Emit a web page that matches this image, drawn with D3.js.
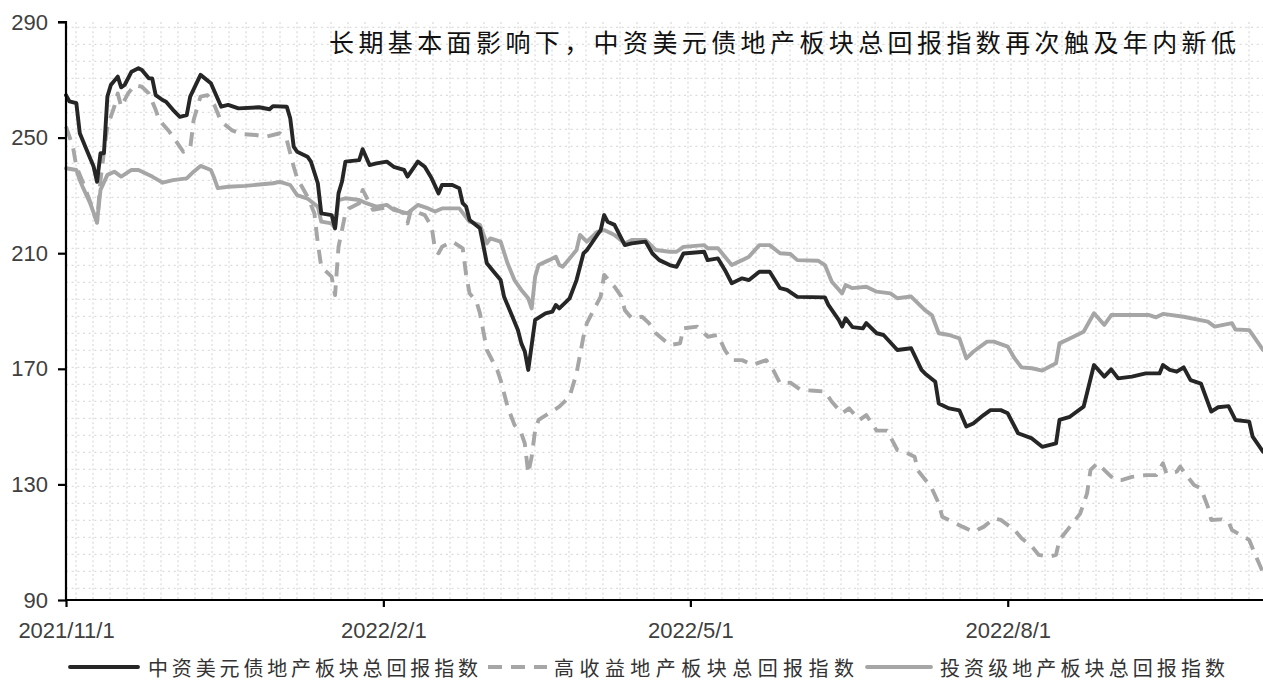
<!DOCTYPE html>
<html>
<head>
<meta charset="utf-8">
<script src="https://cdn.jsdelivr.net/npm/d3@7"></script>
<style>
  html, body { margin: 0; padding: 0; background: #fff; }
  svg { display: block; }
</style>
</head>
<body>
<svg id="chart" width="1263" height="683"></svg>
<script>
// ---------------- DATA ----------------
const chartTitle = "长期基本面影响下，中资美元债地产板块总回报指数再次触及年内新低";
const seriesNames = ["中资美元债地产板块总回报指数", "高收益地产板块总回报指数", "投资级地产板块总回报指数"];
const yTickValues = [90, 130, 170, 210, 250, 290];
const xTickDates = ["2021-11-01", "2022-02-01", "2022-05-01", "2022-08-01"];
const xTickLabels = ["2021/11/1", "2022/2/1", "2022/5/1", "2022/8/1"];
const xDomain = ["2021-11-01", "2022-10-14"];

// 中资美元债地产板块总回报指数
const seriesChina = [
["2021-11-01",264.7],["2021-11-02",262.5],["2021-11-04",261.9],["2021-11-05",251.5],["2021-11-07",245.7],
["2021-11-09",240.0],["2021-11-10",234.7],["2021-11-11",244.6],["2021-11-12",244.6],["2021-11-13",264.2],
["2021-11-14",268.2],["2021-11-16",271.1],["2021-11-17",267.4],["2021-11-18",268.2],["2021-11-20",272.8],
["2021-11-22",274.0],["2021-11-23",273.4],["2021-11-25",270.5],["2021-11-26",270.5],["2021-11-27",264.7],
["2021-11-29",263.0],["2021-11-30",262.4],["2021-12-02",259.6],["2021-12-04",257.2],["2021-12-06",257.8],
["2021-12-07",264.2],["2021-12-10",271.7],["2021-12-13",268.8],["2021-12-16",260.7],["2021-12-18",261.3],
["2021-12-21",260.1],["2021-12-27",260.5],["2021-12-30",259.8],["2021-12-31",260.9],["2022-01-04",260.7],
["2022-01-05",256.7],["2022-01-06",246.9],["2022-01-07",245.1],["2022-01-10",243.4],["2022-01-11",241.7],
["2022-01-13",234.2],["2022-01-14",223.8],["2022-01-17",223.2],["2022-01-18",218.6],["2022-01-19",230.7],
["2022-01-20",234.7],["2022-01-21",241.7],["2022-01-25",242.2],["2022-01-26",246.0],["2022-01-28",240.5],
["2022-01-30",241.1],["2022-02-02",241.7],["2022-02-04",239.9],["2022-02-07",238.8],["2022-02-08",236.5],
["2022-02-11",241.7],["2022-02-13",239.9],["2022-02-15",235.9],["2022-02-17",230.7],["2022-02-18",233.6],
["2022-02-21",233.6],["2022-02-23",232.5],["2022-02-24",227.3],["2022-02-25",226.1],["2022-02-26",221.5],
["2022-03-01",218.6],["2022-03-03",206.5],["2022-03-05",203.6],["2022-03-07",200.7],["2022-03-08",194.9],
["2022-03-10",189.2],["2022-03-12",183.4],["2022-03-13",178.8],["2022-03-14",176.0],["2022-03-15",169.6],
["2022-03-17",186.9],["2022-03-20",189.2],["2022-03-22",189.8],["2022-03-23",192.1],["2022-03-24",190.9],
["2022-03-27",194.4],["2022-03-29",200.7],["2022-03-31",209.9],["2022-04-01",211.1],["2022-04-04",216.3],
["2022-04-05",218.0],["2022-04-06",223.2],["2022-04-07",220.9],["2022-04-09",219.8],["2022-04-12",212.8],
["2022-04-14",213.4],["2022-04-18",214.0],["2022-04-20",209.9],["2022-04-22",207.6],["2022-04-25",205.9],
["2022-04-27",205.3],["2022-04-29",209.9],["2022-05-05",210.5],["2022-05-06",207.6],["2022-05-09",208.2],
["2022-05-11",204.2],["2022-05-13",199.6],["2022-05-16",201.3],["2022-05-18",200.7],["2022-05-21",203.6],
["2022-05-24",203.6],["2022-05-27",197.9],["2022-05-29",197.3],["2022-06-01",194.9],["2022-06-09",194.7],
["2022-06-10",192.1],["2022-06-13",186.9],["2022-06-14",184.6],["2022-06-15",187.5],["2022-06-17",184.4],
["2022-06-20",184.0],["2022-06-21",185.8],["2022-06-24",182.3],["2022-06-26",181.7],["2022-06-30",176.5],
["2022-07-04",177.1],["2022-07-07",169.6],["2022-07-08",168.4],["2022-07-11",165.5],["2022-07-12",158.0],
["2022-07-15",156.3],["2022-07-18",155.6],["2022-07-20",150.0],["2022-07-22",151.1],["2022-07-25",154.0],
["2022-07-27",155.7],["2022-07-30",155.7],["2022-08-01",154.6],["2022-08-04",147.7],["2022-08-08",145.9],
["2022-08-11",143.0],["2022-08-15",144.2],["2022-08-16",152.3],["2022-08-19",153.4],["2022-08-23",156.9],
["2022-08-26",171.3],["2022-08-29",167.3],["2022-08-31",169.8],["2022-09-02",166.7],["2022-09-06",167.3],
["2022-09-10",168.4],["2022-09-14",168.4],["2022-09-15",171.3],["2022-09-17",169.6],["2022-09-19",169.0],
["2022-09-21",170.5],["2022-09-23",166.1],["2022-09-26",164.9],["2022-09-29",155.2],["2022-10-01",156.7],
["2022-10-04",157.1],["2022-10-06",152.3],["2022-10-10",151.7],["2022-10-11",146.5],["2022-10-14",141.3]
];

// 高收益地产板块总回报指数
const seriesHighYield = [
["2021-11-01",253.8],["2021-11-03",246.9],["2021-11-04",240.0],["2021-11-06",234.2],["2021-11-08",227.8],
["2021-11-10",220.5],["2021-11-11",235.3],["2021-11-12",245.0],["2021-11-13",253.8],["2021-11-15",260.7],
["2021-11-16",265.3],["2021-11-17",260.7],["2021-11-19",265.3],["2021-11-21",268.2],["2021-11-23",267.6],
["2021-11-25",265.3],["2021-11-27",259.6],["2021-11-28",256.1],["2021-12-01",252.0],["2021-12-03",248.6],
["2021-12-05",245.1],["2021-12-07",246.2],["2021-12-08",256.1],["2021-12-10",264.2],["2021-12-12",264.7],
["2021-12-14",261.3],["2021-12-16",255.5],["2021-12-19",252.6],["2021-12-22",251.2],["2021-12-26",250.9],
["2021-12-29",250.3],["2022-01-02",251.5],["2022-01-04",249.2],["2022-01-06",240.0],["2022-01-07",236.0],
["2022-01-10",229.6],["2022-01-12",223.8],["2022-01-13",213.4],["2022-01-14",205.3],["2022-01-17",201.9],
["2022-01-18",195.5],["2022-01-19",212.2],["2022-01-21",223.8],["2022-01-22",225.5],["2022-01-25",227.3],
["2022-01-26",231.9],["2022-01-29",225.0],["2022-02-03",226.1],["2022-02-07",223.8],["2022-02-08",220.3],
["2022-02-09",225.0],["2022-02-13",223.2],["2022-02-15",219.2],["2022-02-16",211.1],["2022-02-17",210.0],
["2022-02-18",212.2],["2022-02-21",214.0],["2022-02-24",211.7],["2022-02-25",202.5],["2022-02-26",196.1],
["2022-02-28",193.2],["2022-03-01",189.2],["2022-03-03",176.5],["2022-03-06",169.6],["2022-03-07",166.1],
["2022-03-09",156.9],["2022-03-11",150.6],["2022-03-13",147.7],["2022-03-14",144.2],["2022-03-15",133.8],
["2022-03-16",139.6],["2022-03-17",148.8],["2022-03-18",152.3],["2022-03-21",154.6],["2022-03-24",156.9],
["2022-03-27",160.4],["2022-03-29",168.4],["2022-03-31",181.1],["2022-04-01",185.8],["2022-04-04",192.7],
["2022-04-05",195.0],["2022-04-06",202.5],["2022-04-09",198.4],["2022-04-11",195.0],["2022-04-12",190.3],
["2022-04-14",187.5],["2022-04-17",188.0],["2022-04-19",185.8],["2022-04-21",182.3],["2022-04-25",178.2],
["2022-04-28",178.8],["2022-04-29",184.0],["2022-05-03",184.6],["2022-05-06",181.1],["2022-05-09",181.7],
["2022-05-11",176.5],["2022-05-13",173.0],["2022-05-16",173.0],["2022-05-19",171.3],["2022-05-23",173.0],
["2022-05-25",169.6],["2022-05-27",165.0],["2022-05-30",165.2],["2022-06-02",162.7],["2022-06-06",162.4],
["2022-06-09",162.1],["2022-06-11",158.6],["2022-06-14",154.6],["2022-06-16",156.3],["2022-06-19",152.3],
["2022-06-21",154.0],["2022-06-24",148.6],["2022-06-27",148.6],["2022-06-30",141.9],["2022-07-02",141.3],
["2022-07-05",139.6],["2022-07-06",134.7],["2022-07-09",130.3],["2022-07-10",128.6],["2022-07-12",123.4],
["2022-07-13",118.8],["2022-07-16",117.1],["2022-07-19",115.3],["2022-07-22",113.6],["2022-07-25",115.3],
["2022-07-28",118.2],["2022-07-30",117.7],["2022-08-03",114.2],["2022-08-05",111.4],["2022-08-08",108.5],
["2022-08-10",105.6],["2022-08-13",105.0],["2022-08-15",105.6],["2022-08-16",110.8],["2022-08-19",115.3],
["2022-08-22",119.9],["2022-08-24",126.9],["2022-08-25",135.0],["2022-08-27",137.3],["2022-08-30",133.8],
["2022-09-01",131.5],["2022-09-03",131.5],["2022-09-06",132.6],["2022-09-10",133.2],["2022-09-13",133.2],
["2022-09-15",137.3],["2022-09-16",133.8],["2022-09-19",134.4],["2022-09-20",136.2],["2022-09-21",134.4],
["2022-09-24",129.8],["2022-09-26",128.6],["2022-09-28",122.3],["2022-09-29",117.7],["2022-10-02",117.9],
["2022-10-04",117.1],["2022-10-05",114.2],["2022-10-10",110.8],["2022-10-12",105.0],["2022-10-14",99.5]
];

// 投资级地产板块总回报指数
const seriesInvGrade = [
["2021-11-01",239.4],["2021-11-04",238.8],["2021-11-05",235.3],["2021-11-06",232.5],["2021-11-08",227.3],
["2021-11-10",220.8],["2021-11-11",231.9],["2021-11-13",237.1],["2021-11-15",238.2],["2021-11-17",236.5],
["2021-11-20",238.8],["2021-11-22",238.8],["2021-11-26",236.5],["2021-11-29",234.4],["2021-12-02",235.3],
["2021-12-06",235.9],["2021-12-08",238.2],["2021-12-10",240.2],["2021-12-13",238.8],["2021-12-14",235.9],
["2021-12-15",232.5],["2021-12-18",233.0],["2021-12-23",233.3],["2021-12-31",234.2],["2022-01-02",234.7],
["2022-01-05",233.6],["2022-01-07",230.1],["2022-01-10",228.9],["2022-01-13",226.1],["2022-01-14",220.9],
["2022-01-17",220.3],["2022-01-18",218.6],["2022-01-19",228.4],["2022-01-21",229.0],["2022-01-25",228.4],
["2022-01-27",227.3],["2022-01-30",226.1],["2022-02-02",226.7],["2022-02-04",225.0],["2022-02-08",223.8],
["2022-02-11",226.7],["2022-02-14",225.5],["2022-02-16",224.4],["2022-02-18",225.5],["2022-02-23",225.5],
["2022-02-26",220.9],["2022-03-01",219.8],["2022-03-03",213.4],["2022-03-04",215.1],["2022-03-07",214.0],
["2022-03-09",206.5],["2022-03-11",200.7],["2022-03-13",197.3],["2022-03-15",194.4],["2022-03-16",190.9],
["2022-03-17",201.9],["2022-03-18",205.9],["2022-03-21",207.6],["2022-03-23",208.8],["2022-03-24",205.9],
["2022-03-25",205.3],["2022-03-29",211.1],["2022-03-30",216.3],["2022-04-01",214.0],["2022-04-04",217.4],
["2022-04-06",218.0],["2022-04-09",216.3],["2022-04-12",213.4],["2022-04-14",214.6],["2022-04-18",214.6],
["2022-04-21",211.1],["2022-04-25",210.5],["2022-04-27",210.5],["2022-04-29",212.2],["2022-05-05",212.8],
["2022-05-06",211.7],["2022-05-09",211.7],["2022-05-13",205.9],["2022-05-16",207.6],["2022-05-18",208.8],
["2022-05-21",212.8],["2022-05-24",212.8],["2022-05-27",210.0],["2022-05-30",209.7],["2022-06-01",207.6],
["2022-06-07",207.4],["2022-06-09",205.9],["2022-06-11",200.1],["2022-06-14",196.1],["2022-06-15",199.0],
["2022-06-17",197.9],["2022-06-21",198.4],["2022-06-24",196.7],["2022-06-28",196.1],["2022-06-30",194.4],
["2022-07-04",195.0],["2022-07-08",190.3],["2022-07-10",188.6],["2022-07-12",182.3],["2022-07-15",181.7],
["2022-07-18",180.5],["2022-07-20",173.6],["2022-07-22",175.9],["2022-07-26",179.4],["2022-07-28",179.4],
["2022-08-01",177.7],["2022-08-03",173.6],["2022-08-05",170.5],["2022-08-08",170.2],["2022-08-11",169.4],
["2022-08-15",171.9],["2022-08-16",178.8],["2022-08-19",180.5],["2022-08-23",182.8],["2022-08-26",189.2],
["2022-08-29",185.2],["2022-08-31",188.6],["2022-09-06",188.6],["2022-09-11",188.6],["2022-09-13",187.8],
["2022-09-15",189.0],["2022-09-21",188.0],["2022-09-28",186.3],["2022-09-30",184.6],["2022-10-05",185.8],
["2022-10-06",183.6],["2022-10-10",183.4],["2022-10-11",181.7],["2022-10-14",176.5]
];

// ---------------- DRAW ----------------
const parse = d3.timeParse("%Y-%m-%d");
const svg = d3.select("#chart");
const plot = { left: 66, right: 1263, top: 22, bottom: 600 };

const x = d3.scaleTime().domain(xDomain.map(parse)).range([plot.left, plot.right]);
const y = d3.scaleLinear().domain([90, 290]).range([plot.bottom, plot.top]);

const fontLatin = "'Liberation Sans', Arial, 'Noto Sans', sans-serif";
const fontCJK = "'Noto Sans CJK SC', 'Noto Sans', sans-serif";

// background dotted grid (pattern fill of the plot area)
const grid = svg.append("g").attr("class", "grid");
const gridStep = 17;
d3.range(plot.left + 10, plot.right, gridStep).forEach(gx => {
  grid.append("line").attr("x1", gx).attr("x2", gx).attr("y1", plot.top).attr("y2", plot.bottom)
    .attr("stroke", "#dcdcdc").attr("stroke-width", 1.3).attr("stroke-dasharray", "2,2.6");
});
d3.range(plot.bottom - 11.7, plot.top, -gridStep).forEach(gy => {
  grid.append("line").attr("x1", plot.left).attr("x2", plot.right).attr("y1", gy).attr("y2", gy)
    .attr("stroke", "#dcdcdc").attr("stroke-width", 1.3).attr("stroke-dasharray", "2,3.67");
});

// lines
const line = d3.line().x(d => x(parse(d[0]))).y(d => y(d[1])).curve(d3.curveLinear);
const styles = [
  { data: seriesHighYield, color: "#a6a6a6", dash: "14,9" },
  { data: seriesInvGrade, color: "#a6a6a6", dash: null },
  { data: seriesChina, color: "#262626", dash: null }
];
styles.forEach(s => {
  svg.append("path").datum(s.data).attr("d", line)
    .attr("fill", "none").attr("stroke", s.color).attr("stroke-width", 3.9)
    .attr("stroke-linejoin", "round").attr("stroke-linecap", s.dash ? "butt" : "round")
    .attr("stroke-dasharray", s.dash);
});

// axes
const yAxis = svg.append("g").attr("transform", `translate(${plot.left},0)`)
  .call(d3.axisLeft(y).tickValues(yTickValues).tickSize(8).tickPadding(10).tickFormat(d3.format("d")));
const xAxis = svg.append("g").attr("transform", `translate(0,${plot.bottom})`)
  .call(d3.axisBottom(x).tickValues(xTickDates.map(parse)).tickSize(7).tickPadding(15)
    .tickFormat((d, i) => xTickLabels[i]));
[yAxis, xAxis].forEach(a => {
  a.select(".domain").attr("stroke", "#000").attr("stroke-width", 2.2);
  a.selectAll(".tick line").attr("stroke", "#000").attr("stroke-width", 2.2);
  a.selectAll(".tick text").attr("fill", "#404040").attr("font-size", 22).attr("font-family", fontLatin);
});
yAxis.select(".domain").attr("d", `M-8,${plot.top}H0V${plot.bottom}`);
xAxis.select(".domain").attr("d", `M${plot.left},0H${plot.right}`);

// title
svg.append("text").attr("x", 329).attr("y", 41)
  .attr("dominant-baseline", "central")
  .attr("font-family", fontCJK).attr("font-size", 25).attr("fill", "#111")
  .attr("textLength", 907).attr("lengthAdjust", "spacing")
  .text(chartTitle);

// legend
const legendY = 667;
const legendItems = [
  { name: seriesNames[0], color: "#262626", dash: null, x1: 70, x2: 138, tx: 148, tw: 330 },
  { name: seriesNames[1], color: "#a6a6a6", dash: "14,9", x1: 488, x2: 547, tx: 554, tw: 300 },
  { name: seriesNames[2], color: "#a6a6a6", dash: null, x1: 867, x2: 931, tx: 940, tw: 285 }
];
const lg = svg.append("g");
legendItems.forEach(it => {
  lg.append("line").attr("x1", it.x1).attr("x2", it.x2).attr("y1", legendY).attr("y2", legendY)
    .attr("stroke", it.color).attr("stroke-width", 3.9)
    .attr("stroke-linecap", it.dash ? "butt" : "round").attr("stroke-dasharray", it.dash);
  lg.append("text").attr("x", it.tx).attr("y", legendY)
    .attr("dominant-baseline", "central")
    .attr("font-family", fontCJK).attr("font-size", 20).attr("fill", "#333")
    .attr("textLength", it.tw).attr("lengthAdjust", "spacing")
    .text(it.name);
});
</script>
</body>
</html>
